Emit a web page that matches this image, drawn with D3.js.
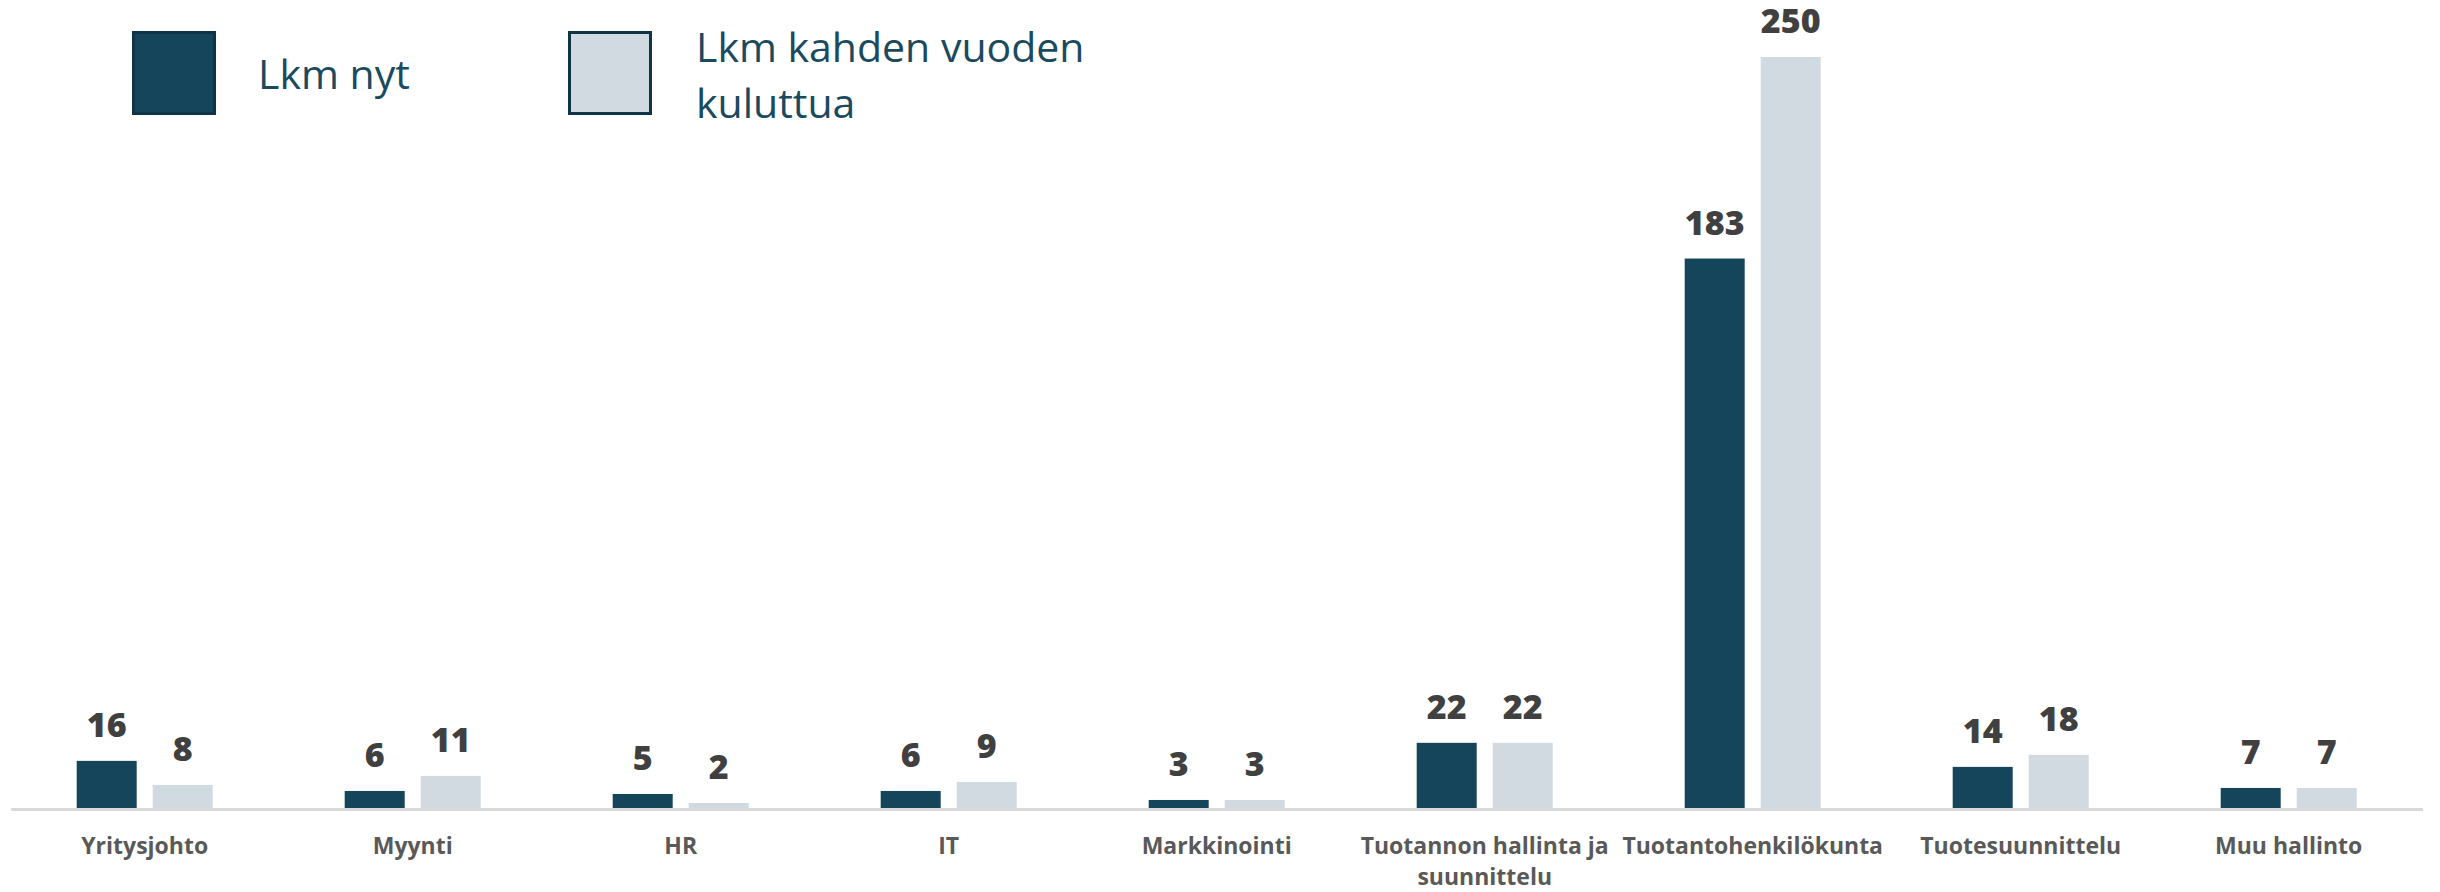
<!DOCTYPE html>
<html>
<head>
  <meta charset="utf8">
  <title>Lkm nyt / kahden vuoden kuluttua</title>
  <script src="https://d3js.org/d3.v7.min.js"></script>
  <style>
    body { margin: 0; background: #fff; }
    svg { display: block; }
  </style>
</head>
<body>
<script>
  // data
  var categories = ["Yritysjohto", "Myynti", "HR", "IT", "Markkinointi",
                    "Tuotannon hallinta ja suunnittelu", "Tuotantohenkilökunta",
                    "Tuotesuunnittelu", "Muu hallinto"];
  var seriesNames = ["Lkm nyt", "Lkm kahden vuoden kuluttua"];
  var nyt = [16, 6, 5, 6, 3, 22, 183, 14, 7];
  var kahdenVuoden = [8, 11, 2, 9, 3, 22, 250, 18, 7];
  var colors = ["#15455b", "#d1dae0"];

  var width = 2440, height = 892,
      baseY = 809, topY = 57;

  var svg = d3.select("body").append("svg")
      .attr("width", width)
      .attr("height", height);

  var rows = categories.map(function(c, i) {
    return { cat: c, values: [nyt[i], kahdenVuoden[i]] };
  });

  var x0 = d3.scaleBand()
      .domain(categories)
      .range([10.7, 2422.7]);

  // two bars of 60px with 16px gap, centred in each band
  var x1 = d3.scaleBand()
      .domain([0, 1])
      .range([(x0.bandwidth() - 136) / 2, (x0.bandwidth() + 136) / 2])
      .paddingInner(16 / 76);

  var y = d3.scaleLinear()
      .domain([0, 250])
      .range([baseY, topY]);

  var groups = svg.append("g").selectAll("g")
      .data(rows)
      .enter().append("g")
      .attr("transform", function(d) { return "translate(" + x0(d.cat) + ",0)"; });

  groups.selectAll("rect")
      .data(function(d) { return d.values; })
      .enter().append("rect")
      .attr("x", function(d, i) { return x1(i); })
      .attr("y", function(d) { return y(d); })
      .attr("width", x1.bandwidth())
      .attr("height", function(d) { return baseY - y(d); })
      .attr("fill", function(d, i) { return colors[i]; });

  groups.selectAll("text")
      .data(function(d) { return d.values; })
      .enter().append("text")
      .attr("x", function(d, i) { return x1(i) + x1.bandwidth() / 2; })
      .attr("y", function(d) { return y(d) - 24; })
      .attr("text-anchor", "middle")
      .attr("font-family", "'Open Sans', sans-serif")
      .attr("font-weight", 800)
      .attr("font-size", "34px")
      .attr("fill", "#404040")
      .text(function(d) { return d; });

  // x axis
  var axis = svg.append("g")
      .attr("transform", "translate(0," + baseY + ")")
      .call(d3.axisBottom(x0).tickSize(0).tickSizeOuter(0));

  axis.select(".domain")
      .attr("stroke", "#d9d9d9")
      .attr("stroke-width", 3);

  axis.selectAll(".tick text")
      .attr("font-family", "'Open Sans', sans-serif")
      .attr("font-weight", 700)
      .attr("font-size", "23px")
      .attr("fill", "#595959")
      .attr("y", 46)
      .attr("dy", 0)
      .call(wrap, 290);

  function wrap(texts, w) {
    texts.each(function() {
      var text = d3.select(this),
          words = text.text().split(/\s+/),
          line = [], lines = [];
      text.text(null);
      var probe = text.append("tspan");
      words.forEach(function(word) {
        line.push(word);
        probe.text(line.join(" "));
        if (probe.node().getComputedTextLength() > w && line.length > 1) {
          line.pop();
          lines.push(line.join(" "));
          line = [word];
        }
      });
      lines.push(line.join(" "));
      probe.remove();
      lines.forEach(function(l, i) {
        text.append("tspan")
            .attr("x", 0)
            .attr("y", 45 + i * 31)
            .text(l);
      });
    });
  }

  // legend
  var legendX = [132, 568];
  var legend = svg.append("g").selectAll("g")
      .data(seriesNames)
      .enter().append("g")
      .attr("transform", function(d, i) { return "translate(" + legendX[i] + ",31)"; });

  legend.append("rect")
      .attr("x", 1.5)
      .attr("y", 1.5)
      .attr("width", 81)
      .attr("height", 81)
      .attr("fill", function(d, i) { return colors[i]; })
      .attr("stroke", "#0f3445")
      .attr("stroke-width", 3);

  legend.append("text")
      .attr("font-family", "'Open Sans', sans-serif")
      .attr("font-size", "41px")
      .attr("fill", "#1b4a5e")
      .each(function(d, i) {
        var t = d3.select(this);
        if (i === 0) {
          t.append("tspan").attr("x", 126).attr("y", 58).text(d);
        } else {
          var parts = ["Lkm kahden vuoden", "kuluttua"];
          parts.forEach(function(p, j) {
            t.append("tspan").attr("x", 128).attr("y", 31 + j * 56).text(p);
          });
        }
      });
</script>
</body>
</html>
